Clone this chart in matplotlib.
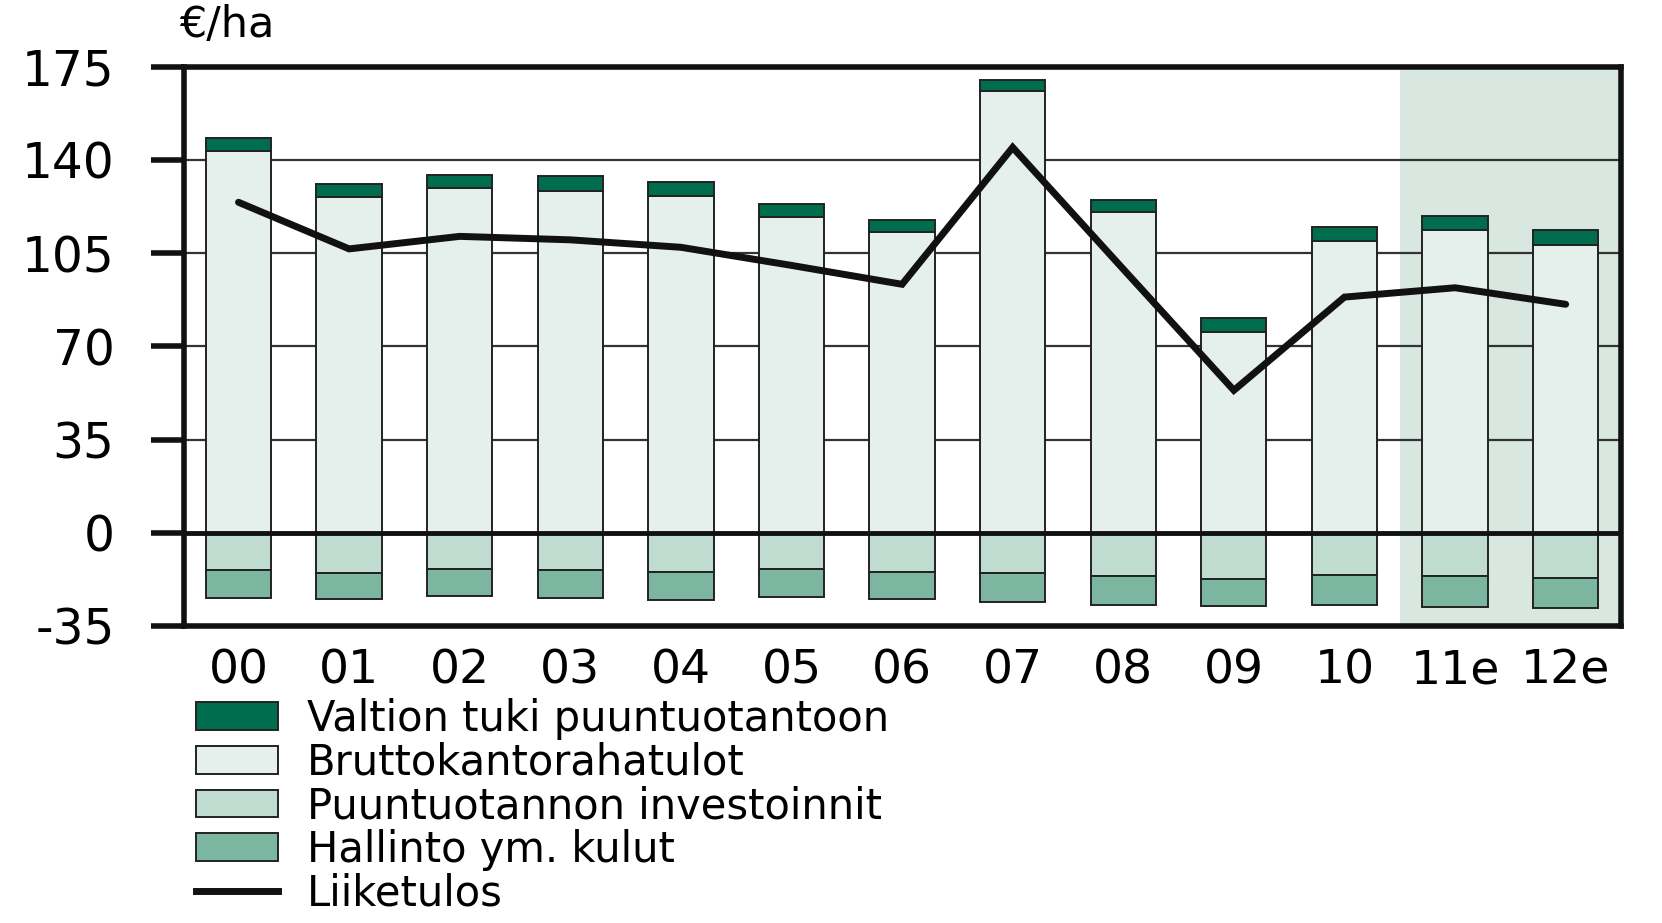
import matplotlib
matplotlib.use('Agg')
import matplotlib.pyplot as plt
from matplotlib.patches import Patch
from matplotlib.lines import Line2D
import numpy as np

# years on the x axis, e = estimate
years = ['00', '01', '02', '03', '04', '05', '06', '07', '08', '09', '10', '11e', '12e']

# euro per hectare
valtion_tuki = [4.6, 5.0, 5.0, 5.8, 5.0, 5.0, 4.7, 4.4, 4.7, 5.2, 5.0, 5.3, 5.5]
brutto = [143.5, 125.9, 129.5, 128.2, 126.6, 118.4, 112.8, 165.7, 120.3, 75.3, 109.7, 113.7, 108.2]
investoinnit = [-14.0, -15.2, -13.5, -14.1, -14.7, -13.7, -14.6, -15.2, -16.4, -17.4, -15.7, -16.4, -16.9]
hallinto = [-10.4, -9.7, -10.4, -10.5, -10.4, -10.5, -10.3, -10.8, -10.6, -10.0, -11.3, -11.5, -11.3]
liiketulos = [124.1, 106.6, 111.3, 110.0, 107.2, 100.4, 93.3, 144.7, 99.0, 53.5, 88.5, 92.0, 85.8]

yticks = [-35, 0, 35, 70, 105, 140, 175]

col_tuki = '#006e4e'
col_brutto = '#e5f0ec'
col_invest = '#c0dbd0'
col_hallinto = '#7db6a0'
col_shade = '#d8e7e0'
edge = '#222222'

plt.rcParams['font.family'] = ['DejaVu Sans']

fig = plt.figure(figsize=(16.62, 9.23), dpi=100)
ax = fig.add_axes([0.1107, 0.3218, 0.9753 - 0.1107, 0.9277 - 0.3218])

x = np.arange(len(years))
w = 0.59

# shaded forecast area
ax.axvspan(10.5, 12.6, color=col_shade, zorder=0, lw=0)

# thin gridlines
for yv in [35, 70, 105, 140]:
    ax.axhline(yv, color='#333333', lw=1.6, zorder=0.5)

# stacked bars
ax.bar(x, brutto, w, color=col_brutto, edgecolor=edge, lw=1.4, zorder=2)
ax.bar(x, valtion_tuki, w, bottom=brutto, color=col_tuki, edgecolor=edge, lw=1.4, zorder=2)
ax.bar(x, investoinnit, w, color=col_invest, edgecolor=edge, lw=1.4, zorder=2)
ax.bar(x, hallinto, w, bottom=investoinnit, color=col_hallinto, edgecolor=edge, lw=1.4, zorder=2)

# zero line on top of the bars
ax.axhline(0, color='#111111', lw=3.5, zorder=2.5)

# operating result line
ax.plot(x, liiketulos, color='#111111', lw=5, solid_capstyle='round', solid_joinstyle='miter', zorder=3)

ax.set_xlim(-0.493, 12.5)
ax.set_ylim(-35, 175)
ax.set_yticks(yticks)
ax.set_yticklabels([str(v) for v in yticks], fontsize=35)
ax.set_xticks(x)
ax.set_xticklabels(years, fontsize=34)
ax.tick_params(axis='y', length=24, width=4, pad=26, color='#111111')
ax.tick_params(axis='x', length=0, pad=16)

for s in ax.spines.values():
    s.set_linewidth(4)
    s.set_color('#111111')

fig.text(0.108, 0.973, '€/ha', fontsize=31, va='center', ha='left')

# legend below the chart
handles = [
    Patch(facecolor=col_tuki, edgecolor=edge, lw=1.4),
    Patch(facecolor=col_brutto, edgecolor=edge, lw=1.4),
    Patch(facecolor=col_invest, edgecolor=edge, lw=1.4),
    Patch(facecolor=col_hallinto, edgecolor=edge, lw=1.4),
    Line2D([0], [0], color='#111111', lw=5),
]
labels = ['Valtion tuki puuntuotantoon', 'Bruttokantorahatulot',
          'Puuntuotannon investoinnit', 'Hallinto ym. kulut', 'Liiketulos']
fig.legend(handles, labels, loc='upper left', bbox_to_anchor=(0.118, 0.244),
           frameon=False, fontsize=30, handlelength=1.97, handleheight=0.64,
           handletextpad=0.7, labelspacing=0.04, borderpad=0, borderaxespad=0)

fig.savefig('out.png', dpi=100)
